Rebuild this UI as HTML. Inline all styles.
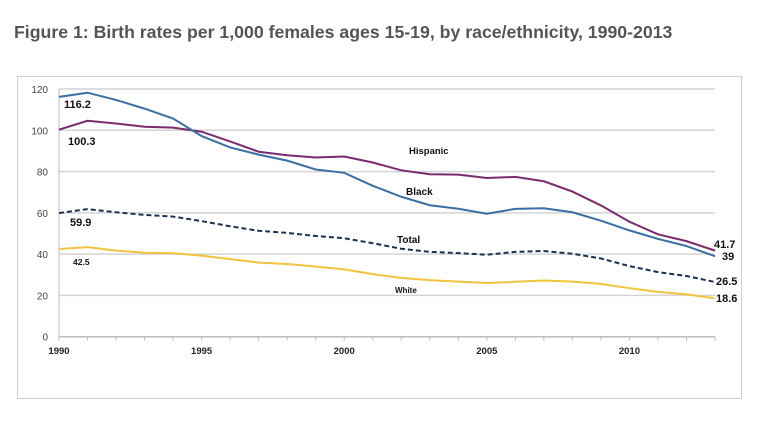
<!DOCTYPE html>
<html><head><meta charset="utf-8"><style>
body{margin:0;background:#fff;width:759px;height:421px;overflow:hidden;font-family:"Liberation Sans",sans-serif}
#title{position:absolute;left:14px;top:22px;font-size:17.7px;font-weight:bold;color:#555;white-space:nowrap}
</style></head><body>
<div id="title">Figure 1: Birth rates per 1,000 females ages 15-19, by race/ethnicity, 1990-2013</div>
<svg id="c" width="759" height="421" style="position:absolute;left:0;top:0">
<rect x="17.5" y="76.5" width="724" height="322" fill="#fff" stroke="#cfcfcf"/>
<g id="g"></g>
</svg>
<script>
const years=[1990,1991,1992,1993,1994,1995,1996,1997,1998,1999,2000,2001,2002,2003,2004,2005,2006,2007,2008,2009,2010,2011,2012,2013];
const black=[116.2,118.2,114.7,110.5,105.7,97.2,91.7,88.2,85.3,81.0,79.4,73.1,67.8,63.7,62.0,59.6,61.9,62.2,60.3,56.2,51.5,47.4,43.9,39.0];
const hispanic=[100.3,104.6,103.3,101.7,101.3,99.3,94.6,89.6,87.9,86.8,87.3,84.4,80.6,78.7,78.5,76.9,77.4,75.3,70.3,63.6,55.7,49.6,46.3,41.7];
const total=[59.9,61.8,60.3,59.0,58.2,56.0,53.5,51.3,50.3,48.8,47.7,45.3,42.6,41.1,40.5,39.7,41.1,41.5,40.2,37.9,34.2,31.3,29.4,26.5];
const white=[42.5,43.4,41.7,40.7,40.4,39.3,37.6,35.9,35.2,34.0,32.6,30.3,28.5,27.4,26.7,26.0,26.6,27.2,26.7,25.6,23.5,21.7,20.5,18.6];
const yTicks=[0,20,40,60,80,100,120];
const xTickLabels=[1990,1995,2000,2005,2010];
const NS="http://www.w3.org/2000/svg";
const g=document.getElementById('g');
const X=y=>59+(y-1990)*(715-59)/23;
const Y=v=>336.7-v*(336.7-89)/120;
function mk(t,a,p){const e=document.createElementNS(NS,t);for(const k in a)e.setAttribute(k,a[k]);(p||g).appendChild(e);return e;}
yTicks.forEach(t=>{
  const l=mk('line',{x1:59,x2:715,y1:Y(t),y2:Y(t),stroke:t===0?'#bdbdbd':'#d4d4d4','stroke-width':1.5});
  
  
  const tx=mk('text',{x:48,y:Y(t)+4,'text-anchor':'end','font-size':10,fill:'#444'});tx.textContent=t;
  
  
});
years.forEach(y=>{const l=mk('line',{x1:X(y),x2:X(y),y1:336.7,y2:340.7,stroke:'#bdbdbd'});
  
  });
mk('line',{x1:59,x2:59,y1:89,y2:337,stroke:'#bdbdbd'});
xTickLabels.forEach(y=>{const t=mk('text',{x:X(y),y:354,'text-anchor':'middle','font-size':9.5,'font-weight':'bold',fill:'#222'});t.textContent=y;
  
  });
function line(d,col,name,dash){
  const p=mk('polyline',{points:d.map((v,i)=>X(years[i])+','+Y(v)).join(' '),fill:'none',stroke:col,'stroke-width':2,'stroke-dasharray':dash||'none'});
  
  
}
line(white,'#f2c33d','line-white');
line(total,'#1d3050','line-total','5,3');
line(hispanic,'#7b2b6d','line-hispanic');
line(black,'#3a6ea6','line-black');
function lab(x,y,s,txt,name){const t=mk('text',{x:x,y:y,'font-size':s,'font-weight':'bold',fill:'#111'});t.textContent=txt;
  
  }
lab(64,108,11,black[0],'label-black-start');
lab(68,145,11,hispanic[0],'label-hispanic-start');
lab(70,226,11,total[0],'label-total-start');
lab(73,265,8.5,white[0],'label-white-start');
lab(409,154,9.5,'Hispanic','label-hispanic');
lab(406,195,10,'Black','label-black');
lab(397,243,10,'Total','label-total');
lab(395,293,8,'White','label-white');
lab(714,248,11,hispanic[23],'label-hispanic-end');
lab(722,260,11,black[23],'label-black-end');
lab(716,285,11,total[23],'label-total-end');
lab(716,302,11,white[23],'label-white-end');
</script>
</body></html>
